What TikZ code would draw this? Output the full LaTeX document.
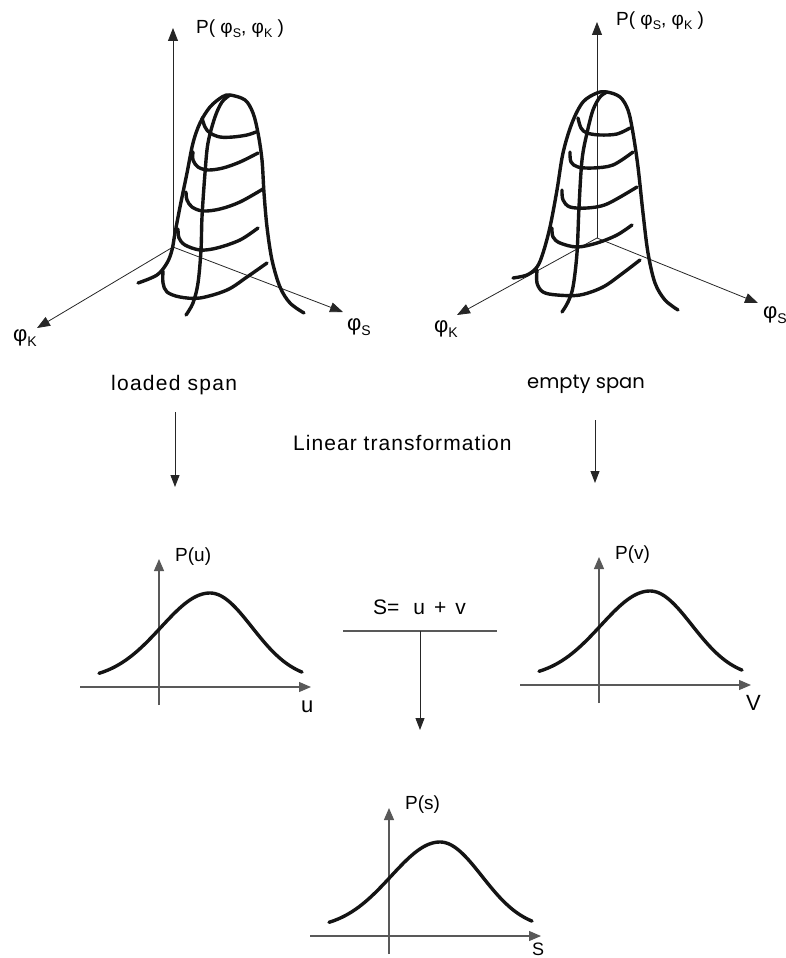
\documentclass[tikz,border=0pt]{standalone}
\usepackage{fontspec}
\setmainfont{Liberation Sans}
\newfontfamily\geofont{Poppins}
\newfontfamily\spacedfont[LetterSpace=6]{Liberation Sans}
\newfontfamily\lspacedfont[LetterSpace=5]{Liberation Sans}
\usetikzlibrary{arrows.meta}
\newcommand\phs[1]{φ\lower4pt\hbox{\fontsize{12.5}{12.5}\selectfont#1}}
\newcommand\phb[1]{{\fontsize{22}{22}\selectfont φ\lower5.5pt\hbox{\fontsize{14}{14}\selectfont#1}}}
\begin{document}
\begin{tikzpicture}[x=1pt,y=-1pt,
  surf/.style={line width=3.4pt,line cap=round,line join=round,draw=black!92},
  axisthree/.style={line width=0.8pt,draw=black!85,-{Triangle[length=13pt,width=10pt]}},
  gax/.style={line width=1.2pt,draw=black!65},
  garrow/.style={gax,-{Triangle[length=12pt,width=10pt]}},
  flow/.style={line width=1pt,draw=black!85,-{Triangle[length=12pt,width=9pt]}},
  bell/.style={line width=3.4pt,line cap=round,draw=black!92},
  lbl/.style={inner sep=0pt,anchor=base west},
  bellgraph/.pic={
    \coordinate (-yb) at (0,18);
    \coordinate (-yt) at (0,-128);
    \coordinate (-xl) at (-79,0);
    \coordinate (-xr) at (152,0);
    \draw[garrow] (-yb) -- (-yt);
    \draw[garrow] (-xl) -- (-xr);
    \draw[bell] plot[domain=-60:51,samples=50] (\x,{-7-87*exp(-((\x-51)*(\x-51))/4802)})
      -- plot[domain=51:143,samples=50] (\x,{-7-87*exp(-((\x-51)*(\x-51))/3528)});
  }]
\useasboundingbox (0,0) rectangle (786,958);

% ---------- left 3D plot ----------
\coordinate (O1) at (173,247);
\coordinate (Z1) at (173,28);
\coordinate (K1) at (37,328);
\coordinate (S1) at (343,312);
\draw[axisthree] (O1) -- (Z1);
\draw[axisthree] (O1) -- (K1);
\draw[axisthree] (O1) -- (S1);
\node[lbl] (pl1) at (196,34) {\fontsize{19}{19}\selectfont P( \phs{S}, \phs{K} )};
\node[lbl] (kl1) at (13,341) {\phb{K}};
\node[lbl] (sl1) at (347,330) {\phb{S}};

\draw[surf] plot[smooth,tension=0.55] coordinates {(138,283)(157,275)(167,263)(172,250)(175,233)(180,207)(187,173)(193,143)(200,123)(210,107)(222,97)(230,95)(245,100)(253,113)(258,133)(262,160)(264,193)(267,227)(272,260)(280,287)(290,303)(304,313)};
\draw[surf] plot[smooth,tension=0.55] coordinates {(186,315)(193,303)(198,283)(201,250)(202,217)(205,173)(208,143)(215,117)(222,102)(230,95)};
\draw[surf] plot[smooth,tension=0.55] coordinates {(202,118)(205,127)(210,133)(220,137)(233,137)(247,135)(256,132)};
\draw[surf] plot[smooth,tension=0.55] coordinates {(193,152)(193,160)(198,167)(208,170)(223,168)(240,162)(258,153)};
\draw[surf] plot[smooth,tension=0.55] coordinates {(186,192)(187,200)(192,207)(203,211)(220,209)(240,202)(263,189)};
\draw[surf] plot[smooth,tension=0.55] coordinates {(178,229)(179,238)(185,245)(200,250)(217,248)(240,240)(258,228)};
\draw[surf] plot[smooth,tension=0.55] coordinates {(163,271)(163,283)(167,292)(180,297)(200,298)(227,290)(247,277)(267,263)};

% ---------- right 3D plot ----------
\coordinate (O2) at (597,238);
\coordinate (Z2) at (597,22);
\coordinate (K2) at (457,315);
\coordinate (S2) at (758,303);
\draw[axisthree] (O2) -- (Z2);
\draw[axisthree] (O2) -- (K2);
\draw[axisthree] (O2) -- (S2);
\node[lbl] (pl2) at (616,26) {\fontsize{19}{19}\selectfont P( \phs{S}, \phs{K} )};
\node[lbl] (kl2) at (434,332) {\phb{K}};
\node[lbl] (sl2) at (763,318) {\phb{S}};

\draw[surf] plot[smooth,tension=0.55] coordinates {(513,278)(527,275)(537,267)(543,253)(550,227)(557,190)(563,153)(572,123)(583,102)(597,93)(607,92)(620,97)(628,110)(633,133)(638,167)(643,213)(648,253)(655,283)(665,300)(678,310)};
\draw[surf] plot[smooth,tension=0.55] coordinates {(562,312)(568,302)(573,287)(577,253)(579,207)(582,160)(587,133)(593,110)(600,97)(607,92)};
\draw[surf] plot[smooth,tension=0.55] coordinates {(578,118)(581,128)(587,133)(600,135)(617,134)(630,128)};
\draw[surf] plot[smooth,tension=0.55] coordinates {(570,152)(571,162)(578,167)(593,168)(613,165)(633,152)};
\draw[surf] plot[smooth,tension=0.55] coordinates {(562,190)(563,200)(570,207)(587,208)(607,204)(637,187)};
\draw[surf] plot[smooth,tension=0.55] coordinates {(552,228)(553,237)(560,243)(577,247)(597,243)(617,235)(632,225)};
\draw[surf] plot[smooth,tension=0.55] coordinates {(537,270)(537,283)(543,292)(557,295)(580,295)(603,287)(623,273)(640,260)};

% ---------- captions and flow ----------
\node[lbl] (loaded) at (111,390) {\spacedfont\fontsize{21}{21}\selectfont loaded span};
\node[lbl] (empty) at (527,388) {\geofont\fontsize{19.5}{19.5}\selectfont empty span};
\node[lbl] (lin) at (293,450) {\lspacedfont\fontsize{21}{21}\selectfont Linear transformation};
\coordinate (la) at (175,412);
\coordinate (lb) at (175,487);
\coordinate (ra) at (595,420);
\coordinate (rb) at (595,483);
\draw[flow] (la) -- (lb);
\draw[flow] (ra) -- (rb);

% ---------- 2D graphs ----------
\pic (gu) at (159,687) {bellgraph};
\pic (gv) at (599,685) {bellgraph};
\pic (gs) at (389,936) {bellgraph};
\node[lbl] (pu) at (175,561) {\fontsize{19}{19}\selectfont P(u)};
\node[lbl] (pv) at (615,559) {\fontsize{19}{19}\selectfont P(v)};
\node[lbl] (ps) at (405,809) {\fontsize{19}{19}\selectfont P(s)};
\node[lbl] (ul) at (301,712) {\fontsize{22}{22}\selectfont u};
\node[lbl] (vl) at (746,710) {\fontsize{22}{22}\selectfont V};
\node[lbl] (sl) at (532,955) {\fontsize{18}{18}\selectfont S};

% ---------- sum ----------
\node[lbl] (sum) at (373,614) {\fontsize{21}{21}\selectfont S=\kern14pt u\kern9pt+\kern9pt v};
\coordinate (hl) at (343,631);
\coordinate (hr) at (497,631);
\coordinate (hm) at (420,631);
\coordinate (hd) at (420,730);
\draw[gax] (hl) -- (hr);
\draw[flow] (hm) -- (hd);
\end{tikzpicture}
\end{document}
